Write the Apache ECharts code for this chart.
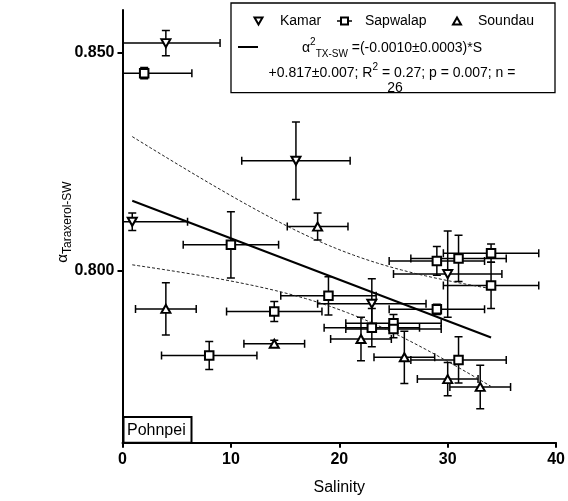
<!DOCTYPE html>
<html>
<head>
<meta charset="utf-8">
<script src="https://cdn.jsdelivr.net/npm/echarts@6.0.0/dist/echarts.min.js"></script>
<style>
  html, body { margin: 0; padding: 0; background: #fff; }
  #chart { width: 568px; height: 501px; }
</style>
</head>
<body>
<div id="chart"></div>
<script>
// Salinity vs. alpha(taraxerol-SW), Pohnpei sites, with x/y error bars
const xTickValues = [0, 10, 20, 30, 40];
const yTickValues = [0.800, 0.850];

const kamarSalinity    = [4.0, 0.9, 16.0, 30.0, 23.0];
const kamarAlpha       = [0.8522, 0.8112, 0.8252, 0.7992, 0.7924];
const kamarSalinityErr = [5.0, 5.1, 5.0, 5.0, 5.0];
const kamarAlphaErr    = [0.0029, 0.0020, 0.0089, 0.0099, 0.0057];

const sapwalapSalinity    = [2.0, 10.0, 14.0, 8.0, 19.0, 23.0, 25.0, 25.0, 29.0, 31.0, 34.0, 34.0, 29.0, 31.0];
const sapwalapAlpha       = [0.8453, 0.8059, 0.7906, 0.7805, 0.7942, 0.7869, 0.7879, 0.7866, 0.8022, 0.8028, 0.8040, 0.7966, 0.7911, 0.7795];
const sapwalapSalinityErr = [4.4, 4.4, 4.4, 4.4, 4.4, 4.4, 4.4, 4.4, 4.4, 4.4, 4.4, 4.4, 4.4, 4.4];
const sapwalapAlphaErr    = [0.0013, 0.0076, 0.0023, 0.0032, 0.0044, 0.0044, 0.0020, 0.0020, 0.0033, 0.0053, 0.0021, 0.0053, 0.0012, 0.0053];

const soundauSalinity    = [18.0, 4.0, 14.0, 22.0, 26.0, 30.0, 33.0];
const soundauAlpha       = [0.8101, 0.7912, 0.7832, 0.7843, 0.7801, 0.7751, 0.7733];
const soundauSalinityErr = [2.8, 2.8, 2.8, 2.8, 2.8, 2.8, 2.8];
const soundauAlphaErr    = [0.0031, 0.0060, 0.0008, 0.0050, 0.0060, 0.0038, 0.0050];

// Student t for a two-sided 95% band with n - 2 = 24 degrees of freedom
const T_95 = 2.064;

const FONT = '"Liberation Sans", Arial, Helvetica, sans-serif';

function rows(s, a, se, ae) {
  return s.map((v, i) => [v, a[i], se[i], ae[i]]);
}
const kamarRows = rows(kamarSalinity, kamarAlpha, kamarSalinityErr, kamarAlphaErr);
const sapwalapRows = rows(sapwalapSalinity, sapwalapAlpha, sapwalapSalinityErr, sapwalapAlphaErr);
const soundauRows = rows(soundauSalinity, soundauAlpha, soundauSalinityErr, soundauAlphaErr);

// Ordinary least squares over all sites pooled
function linearFit(xs, ys) {
  const n = xs.length;
  const mx = xs.reduce((p, q) => p + q, 0) / n;
  const my = ys.reduce((p, q) => p + q, 0) / n;
  let sxx = 0, sxy = 0;
  for (let i = 0; i < n; i++) {
    sxx += (xs[i] - mx) * (xs[i] - mx);
    sxy += (xs[i] - mx) * (ys[i] - my);
  }
  const slope = sxy / sxx;
  const intercept = my - slope * mx;
  let sse = 0;
  for (let i = 0; i < n; i++) {
    const r = ys[i] - (intercept + slope * xs[i]);
    sse += r * r;
  }
  return { n, mx, sxx, slope, intercept, s: Math.sqrt(sse / (n - 2)) };
}

const allS = kamarSalinity.concat(sapwalapSalinity, soundauSalinity);
const allA = kamarAlpha.concat(sapwalapAlpha, soundauAlpha);
const fit = linearFit(allS, allA);
const sMin = Math.min(...allS), sMax = Math.max(...allS);

const fitLine = [[sMin, fit.intercept + fit.slope * sMin], [sMax, fit.intercept + fit.slope * sMax]];
const bandUpper = [], bandLower = [];
const STEPS = 60;
for (let k = 0; k <= STEPS; k++) {
  const x = sMin + (sMax - sMin) * k / STEPS;
  const yhat = fit.intercept + fit.slope * x;
  const half = T_95 * fit.s * Math.sqrt(1 / fit.n + (x - fit.mx) * (x - fit.mx) / fit.sxx);
  bandUpper.push([x, yhat + half]);
  bandLower.push([x, yhat - half]);
}

// Cross-shaped error bars with end caps
function renderErrorBars(params, api) {
  const s = api.value(0), a = api.value(1), se = api.value(2), ae = api.value(3);
  const c = api.coord([s, a]);
  const l = api.coord([s - se, a])[0];
  const r = api.coord([s + se, a])[0];
  const t = api.coord([s, a + ae])[1];
  const b = api.coord([s, a - ae])[1];
  const cap = 4;
  const style = { stroke: '#000', lineWidth: 1.5, fill: null };
  const seg = (x1, y1, x2, y2) => ({ type: 'line', shape: { x1, y1, x2, y2 }, style });
  return {
    type: 'group',
    children: [
      seg(l, c[1], r, c[1]),
      seg(l, c[1] - cap, l, c[1] + cap),
      seg(r, c[1] - cap, r, c[1] + cap),
      seg(c[0], t, c[0], b),
      seg(c[0] - cap, t, c[0] + cap, t),
      seg(c[0] - cap, b, c[0] + cap, b)
    ]
  };
}

function errorSeries(data) {
  return {
    type: 'custom',
    renderItem: renderErrorBars,
    data: data,
    encode: { x: 0, y: 1 },
    clip: true,
    silent: true,
    z: 1
  };
}

const markerStyle = { color: '#fff', borderColor: '#000', borderWidth: 2, opacity: 1 };

const chart = echarts.init(document.getElementById('chart'), null, { renderer: 'canvas' });

chart.setOption({
  animation: false,
  backgroundColor: '#fff',
  grid: { left: 122.5, right: 11, top: 10, bottom: 58.3 },
  xAxis: {
    type: 'value',
    min: xTickValues[0],
    max: xTickValues[xTickValues.length - 1],
    interval: 10,
    name: 'Salinity',
    nameLocation: 'middle',
    nameGap: 37,
    nameTextStyle: { fontSize: 16, color: '#000', fontFamily: FONT },
    axisLine: { show: true, lineStyle: { color: '#000', width: 2 } },
    axisTick: { show: true, length: 5, lineStyle: { color: '#000', width: 2 } },
    axisLabel: { fontSize: 16, fontWeight: 'bold', color: '#000', fontFamily: FONT, margin: 9 },
    splitLine: { show: false }
  },
  yAxis: {
    type: 'value',
    min: 0.7605,
    max: 0.8598,
    axisLine: { show: true, lineStyle: { color: '#000', width: 2 } },
    axisTick: { show: true, length: 5, customValues: yTickValues, lineStyle: { color: '#000', width: 2 } },
    axisLabel: {
      customValues: yTickValues,
      formatter: v => v.toFixed(3),
      fontSize: 16, fontWeight: 'bold', color: '#000', fontFamily: FONT, margin: 8
    },
    splitLine: { show: false }
  },
  series: [
    errorSeries(kamarRows),
    errorSeries(sapwalapRows),
    errorSeries(soundauRows),
    {
      type: 'line', data: bandUpper, showSymbol: false, symbol: 'none', silent: true, z: 2,
      lineStyle: { color: '#222', width: 1, type: [3, 2] }
    },
    {
      type: 'line', data: bandLower, showSymbol: false, symbol: 'none', silent: true, z: 2,
      lineStyle: { color: '#222', width: 1, type: [3, 2] }
    },
    {
      type: 'line', data: fitLine, showSymbol: false, symbol: 'none', silent: true, z: 2,
      lineStyle: { color: '#000', width: 2 }
    },
    {
      name: 'Kamar', type: 'scatter', data: kamarRows.map(r => [r[0], r[1]]),
      symbol: 'triangle', symbolRotate: 180, symbolSize: [9, 8],
      itemStyle: markerStyle, silent: true, z: 3
    },
    {
      name: 'Sapwalap', type: 'scatter', data: sapwalapRows.map(r => [r[0], r[1]]),
      symbol: 'rect', symbolSize: 8.5,
      itemStyle: markerStyle, silent: true, z: 3
    },
    {
      name: 'Soundau', type: 'scatter', data: soundauRows.map(r => [r[0], r[1]]),
      symbol: 'triangle', symbolSize: [9, 8],
      itemStyle: markerStyle, silent: true, z: 3
    }
  ],
  graphic: [
    // y-axis title, rotated to read bottom-to-top
    {
      type: 'text', z: 11, x: 63, y: 222, rotation: Math.PI / 2,
      style: {
        text: '{a|α}{s|Taraxerol-SW}',
        align: 'center', verticalAlign: 'middle',
        rich: {
          a: { fontSize: 15, lineHeight: 22, fontFamily: FONT, fill: '#000' },
          s: { fontSize: 12, lineHeight: 12, verticalAlign: 'bottom', fontFamily: FONT, fill: '#000' }
        }
      }
    },
    // legend box
    {
      type: 'rect', z: 10,
      shape: { x: 231, y: 3, width: 324, height: 89.7 },
      style: { fill: '#fff', stroke: '#000', lineWidth: 1.3 }
    },
    {
      type: 'polygon', z: 11,
      shape: { points: [[254.5, 17.5], [262.5, 17.5], [258.5, 24.5]] },
      style: { fill: '#fff', stroke: '#000', lineWidth: 2 }
    },
    {
      type: 'text', z: 11, x: 280, y: 21,
      style: { text: 'Kamar', fontSize: 14, fontFamily: FONT, fill: '#000', verticalAlign: 'middle' }
    },
    {
      type: 'line', z: 11,
      shape: { x1: 337, y1: 21, x2: 352, y2: 21 },
      style: { stroke: '#000', lineWidth: 1.5 }
    },
    {
      type: 'rect', z: 11,
      shape: { x: 341, y: 17.5, width: 7, height: 7 },
      style: { fill: '#fff', stroke: '#000', lineWidth: 2 }
    },
    {
      type: 'text', z: 11, x: 365, y: 21,
      style: { text: 'Sapwalap', fontSize: 14, fontFamily: FONT, fill: '#000', verticalAlign: 'middle' }
    },
    {
      type: 'polygon', z: 11,
      shape: { points: [[457, 17.5], [461, 24.5], [453, 24.5]] },
      style: { fill: '#fff', stroke: '#000', lineWidth: 2 }
    },
    {
      type: 'text', z: 11, x: 478, y: 21,
      style: { text: 'Soundau', fontSize: 14, fontFamily: FONT, fill: '#000', verticalAlign: 'middle' }
    },
    {
      type: 'line', z: 11,
      shape: { x1: 238, y1: 47, x2: 258, y2: 47 },
      style: { stroke: '#000', lineWidth: 2 }
    },
    {
      type: 'text', z: 11, x: 392, y: 48,
      style: {
        text: '{m|α}{sup|2}{sub|TX-SW}{m| =(-0.0010±0.0003)*S}',
        align: 'center', verticalAlign: 'middle',
        rich: {
          m: { fontSize: 14, lineHeight: 22, fontFamily: FONT, fill: '#000' },
          sup: { fontSize: 10, lineHeight: 10, verticalAlign: 'top', fontFamily: FONT, fill: '#000' },
          sub: { fontSize: 10, lineHeight: 10, verticalAlign: 'bottom', fontFamily: FONT, fill: '#000' }
        }
      }
    },
    {
      type: 'text', z: 11, x: 392, y: 73,
      style: {
        text: '{m|+0.817±0.007; R}{sup|2}{m| = 0.27; p = 0.007; n =}',
        align: 'center', verticalAlign: 'middle',
        rich: {
          m: { fontSize: 14, lineHeight: 22, fontFamily: FONT, fill: '#000' },
          sup: { fontSize: 10, lineHeight: 10, verticalAlign: 'top', fontFamily: FONT, fill: '#000' }
        }
      }
    },
    {
      type: 'text', z: 11, x: 395, y: 88,
      style: { text: '26', fontSize: 14, fontFamily: FONT, fill: '#000', align: 'center', verticalAlign: 'middle' }
    },
    // site label box
    {
      type: 'rect', z: 10,
      shape: { x: 123.5, y: 417, width: 68, height: 25.7 },
      style: { fill: '#fff', stroke: '#000', lineWidth: 2 }
    },
    {
      type: 'text', z: 11, x: 127, y: 431,
      style: { text: 'Pohnpei', fontSize: 16, fontFamily: FONT, fill: '#000', verticalAlign: 'middle' }
    }
  ]
});
</script>
</body>
</html>
